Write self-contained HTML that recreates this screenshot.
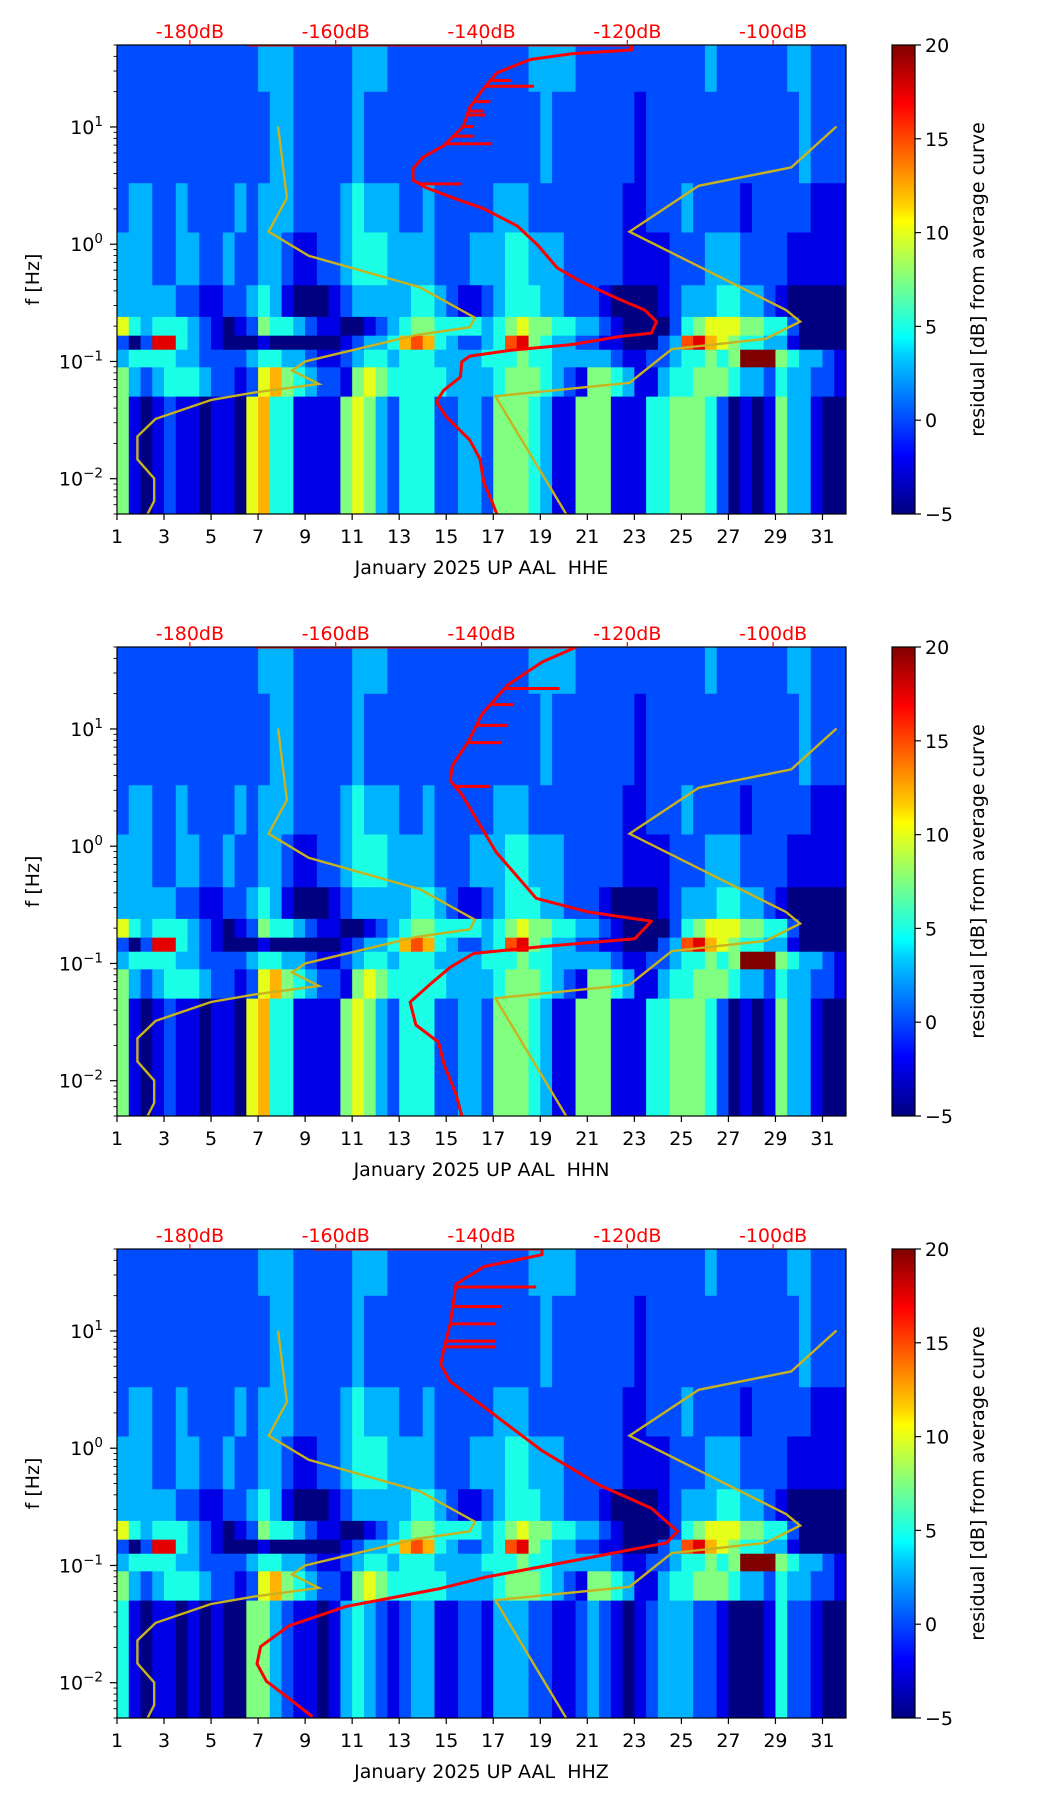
<!DOCTYPE html>
<html><head><meta charset="utf-8">
<style>
html,body{margin:0;padding:0;background:#fff;}
svg{display:block;font-family:"DejaVu Sans","Liberation Sans",sans-serif;}
</style></head>
<body>
<svg id="fig" width="1052" height="1806" viewBox="0 0 1052 1806" xmlns="http://www.w3.org/2000/svg">
<defs>
<linearGradient id="jetgrad" x1="0" y1="1" x2="0" y2="0">
<stop offset="0" stop-color="#000080"/><stop offset="0.11" stop-color="#0000f0"/>
<stop offset="0.125" stop-color="#0000ff"/><stop offset="0.34" stop-color="#00d0ff"/>
<stop offset="0.375" stop-color="#00ffff"/><stop offset="0.5" stop-color="#80ff80"/>
<stop offset="0.625" stop-color="#ffff00"/><stop offset="0.66" stop-color="#ffd000"/>
<stop offset="0.875" stop-color="#ff0000"/><stop offset="1" stop-color="#800000"/>
</linearGradient>
</defs>
</svg>
<script>
// ---- data ----
const dayTicks=[1,3,5,7,9,11,13,15,17,19,21,23,25,27,29,31];
const dbTicks=[-180,-160,-140,-120,-100];
const cbTicks=[-5,0,5,10,15,20];
const decadeTicks=[-2,-1,0,1];
const channels=["HHE","HHN","HHZ"];
// frequency band edges (log10 Hz), top to bottom
const bandEdges=[1.699,1.3,0.52,0.1,-0.35,-0.62,-0.78,-0.9,-1.05,-1.3,-2.301];
// residual codes per half-day (0..a => -5..20 dB)
const rowsCommon=[
"22 22 22 22 22 22 33 32 22 22 33 32 22 22 22 22 22 23 33 32 22 22 22 22 22 32 22 22 23 32 22",
"22 22 22 22 22 22 23 32 22 22 32 22 22 22 22 22 22 22 32 22 22 22 12 22 22 22 22 22 22 32 22",
"23 32 23 22 22 32 33 32 22 23 43 33 22 32 22 22 33 32 22 22 22 21 12 22 32 22 21 22 22 21 11",
"33 32 23 32 23 22 33 21 12 23 44 43 33 32 22 33 34 43 33 22 22 21 11 12 22 33 32 22 21 11 11",
"33 33 32 21 12 23 43 10 00 12 33 33 34 43 21 12 34 44 33 22 21 00 00 12 33 34 43 32 10 00 00",
"64 34 44 32 10 12 54 43 21 10 01 23 45 54 44 43 45 65 54 43 32 10 00 02 45 66 65 54 42 00 00",
"20 29 94 32 10 00 10 00 00 01 23 34 78 74 32 23 48 95 43 32 21 10 00 23 89 76 54 43 31 00 00",
"34 44 43 32 22 23 44 33 21 12 34 43 44 43 33 34 44 54 43 33 33 21 12 23 44 54 5a aa 54 33 21",
"53 23 44 43 22 12 67 54 32 21 56 54 44 44 33 33 45 55 43 21 55 43 11 34 45 55 43 32 43 32 21"
];
const lowRowHHE="51 01 21 10 11 06 74 41 11 15 65 32 44 42 23 32 55 54 31 15 55 11 14 45 55 42 01 01 53 31 00";
const lowRowHHN="51 01 21 10 11 06 74 41 11 15 65 32 44 42 23 32 55 54 31 15 55 11 14 45 55 42 01 01 53 31 00";
const lowRowHHZ="41 01 10 10 10 05 53 21 10 13 43 21 23 31 12 21 33 32 21 12 32 10 12 33 32 21 00 01 42 21 00";
// noise models [dB, log10 f]
const nlnmDb=[-167.9,-166.7,-169.2,-163.7,-148.5,-140.9,-141.6,-149,-164.2,-166,-162.3,-171.1,-177.1,-184.7,-187.2,-187.2,-184.9,-184.9,-185.8];
const nlnmLogF=[1.004,0.394,0.107,-0.099,-0.366,-0.627,-0.709,-0.774,-1.0,-1.077,-1.192,-1.264,-1.329,-1.49,-1.639,-1.835,-1.998,-2.19,-2.3];
const nhnmDb=[-91.3,-97.5,-110.2,-119.7,-98.2,-96.3,-101,-113.9,-119.7,-138.1,-128.4];
const nhnmLogF=[1.004,0.655,0.498,0.107,-0.562,-0.66,-0.807,-0.895,-1.182,-1.296,-2.3];
// average PSD curves per channel
const psdDbHHE=[-172,-119.4,-119.4,-127.7,-133.3,-137.9,-139.7,-141.6,-142.5,-145.2,-148,-149.4,-149.4,-147.6,-143.4,-139.7,-135.1,-132.3,-129.6,-125.9,-121.3,-117.6,-116,-116.7,-121.3,-127.7,-136,-141.6,-142.7,-142.9,-145.2,-146.2,-144.8,-141.6,-140.2,-139.7,-138.8,-137.9];
const psdLogFHHE=[1.699,1.699,1.657,1.624,1.575,1.461,1.33,1.167,1.004,0.84,0.743,0.645,0.547,0.482,0.384,0.303,0.156,-0.007,-0.203,-0.334,-0.464,-0.562,-0.66,-0.758,-0.79,-0.856,-0.905,-0.954,-1.003,-1.133,-1.247,-1.345,-1.475,-1.671,-1.834,-2.03,-2.16,-2.3];
const psdDbHHN=[-171,-127,-131.7,-136.4,-139.9,-141.9,-144,-144.3,-142.7,-138,-132.5,-125.4,-116.7,-119,-131.7,-141.1,-144.3,-147.1,-149.8,-149,-145.9,-145.1,-143.5,-142.7];
const psdLogFHHN=[1.699,1.699,1.57,1.375,1.129,0.883,0.687,0.559,0.441,-0.05,-0.444,-0.56,-0.64,-0.79,-0.856,-0.915,-1.033,-1.18,-1.33,-1.525,-1.672,-1.869,-2.114,-2.3];
const psdDbHHZ=[-163,-131.7,-131.7,-139.6,-143.5,-144.3,-145.1,-145.6,-144.3,-138,-131.7,-123.8,-116.7,-113.1,-114.6,-127,-139.6,-145.9,-158.5,-166.4,-170.3,-170.8,-169.5,-166.4,-163.2];
const psdLogFHHZ=[1.699,1.699,1.65,1.55,1.4,1.06,0.863,0.716,0.569,0.274,-0.021,-0.316,-0.512,-0.709,-0.807,-0.954,-1.102,-1.2,-1.348,-1.515,-1.692,-1.839,-1.987,-2.134,-2.29];
// spikes [log f] -> end dB
const spikeLogFHHE=[1.396,1.347,1.216,1.135,1.102,1.004,0.922,0.857,0.515];
const spikeDbHHE=[-136,-132.8,-138.8,-139.7,-139.5,-141.1,-141.1,-138.6,-142.7];
const spikeLogFHHN=[1.345,1.208,1.03,0.883,0.51];
const spikeDbHHN=[-129.3,-135.6,-136.4,-137.2,-138.8];
const spikeLogFHHZ=[1.375,1.208,1.06,0.913,0.864];
const spikeDbHHZ=[-132.5,-137.2,-138,-138,-138];

// ---- layout ----
const NS="http://www.w3.org/2000/svg";
const svg=document.getElementById('fig');
const AX_L=117, AX_W=729, AX_H=469, CB_L=892, CB_W=23;
const panelTops=[45,647,1249];
const LOGTOP=Math.log10(50), LOGBOT=Math.log10(0.005);
function xDay(d){return AX_L+(d-1)/31*AX_W;}
function xDb(db){return AX_L+(db+190)/100*AX_W;}
function yF(top,lf){return top+(LOGTOP-lf)/(LOGTOP-LOGBOT)*AX_H;}
function cl(v){return Math.max(0,Math.min(1,v));}
function jet(v){const t=(v+5)/25;return 'rgb('+Math.round(255*cl(1.5-Math.abs(4*t-3)))+','+Math.round(255*cl(1.5-Math.abs(4*t-2)))+','+Math.round(255*cl(1.5-Math.abs(4*t-1)))+')';}
function codeVal(c){return c==='a'?20:-5+2.5*parseInt(c,10);}
function mk(tag,attrs,parent){const e=document.createElementNS(NS,tag);for(const k in attrs)e.setAttribute(k,attrs[k]);(parent||svg).appendChild(e);return e;}
function txt(x,y,s,size,anchor,fill,parent){const t=mk('text',{x:x,y:y,'font-size':size,'text-anchor':anchor,fill:fill||'#000'},parent);t.textContent=s;return t;}
function pathD(dbs,lfs,top){return dbs.map((d,i)=>(i?'L':'M')+xDb(d).toFixed(1)+','+yF(top,lfs[i]).toFixed(1)).join(' ');}
function interpDb(dbs,lfs,lf){for(let i=1;i<lfs.length;i++){const a=lfs[i-1],b=lfs[i];if((lf<=a&&lf>=b)||(lf>=a&&lf<=b)){const f=(a===b)?0:(lf-a)/(b-a);return dbs[i-1]+f*(dbs[i]-dbs[i-1]);}}return dbs[dbs.length-1];}

const psdDb=[psdDbHHE,psdDbHHN,psdDbHHZ], psdLogF=[psdLogFHHE,psdLogFHHN,psdLogFHHZ];
const spikeLogF=[spikeLogFHHE,spikeLogFHHN,spikeLogFHHZ], spikeDb=[spikeDbHHE,spikeDbHHN,spikeDbHHZ];
const lowRows=[lowRowHHE,lowRowHHN,lowRowHHZ];

panelTops.forEach((top,p)=>{
  const g=mk('g',{});
  
  
  const cp=mk('clipPath',{id:'clip'+p},g);
  mk('rect',{x:AX_L,y:top,width:AX_W,height:AX_H},cp);
  const hm=mk('g',{'clip-path':'url(#clip'+p+')'},g);
  
  
  const rows=rowsCommon.concat([lowRows[p]]);
  rows.forEach((r,ri)=>{
    const codes=r.replace(/ /g,'');
    const y0=yF(top,bandEdges[ri]), y1=yF(top,bandEdges[ri+1]);
    for(let ci=0;ci<codes.length;ci++){
      const d0=1+ci/2;
      const c=mk('rect',{x:xDay(d0).toFixed(2),y:y0.toFixed(2),width:(xDay(d0+0.5)-xDay(d0)+0.6).toFixed(2),height:(y1-y0+0.6).toFixed(2),fill:jet(codeVal(codes[ci]))},hm);
      
      
    }
  });
  const lo=mk('path',{d:pathD(nlnmDb,nlnmLogF,top),fill:'none',stroke:'#c8b21e','stroke-width':2.4,'clip-path':'url(#clip'+p+')'},g);
  
  
  const hi=mk('path',{d:pathD(nhnmDb,nhnmLogF,top),fill:'none',stroke:'#c8b21e','stroke-width':2.4,'clip-path':'url(#clip'+p+')'},g);
  
  
  const rc=mk('path',{d:pathD(psdDb[p],psdLogF[p],top),fill:'none',stroke:'#ff0000','stroke-width':3,'stroke-linejoin':'round','clip-path':'url(#clip'+p+')'},g);
  
  
  spikeLogF[p].forEach((lf,i)=>{
    const d0=interpDb(psdDb[p].slice(2),psdLogF[p].slice(2),lf);
    const s=mk('line',{x1:xDb(d0),y1:yF(top,lf),x2:xDb(spikeDb[p][i]),y2:yF(top,lf),stroke:'#ff0000','stroke-width':3},g);
    
    
  });
  const fr=mk('rect',{x:AX_L,y:top,width:AX_W,height:AX_H,fill:'none',stroke:'#000','stroke-width':1.2},g);
  
  
  dayTicks.forEach(d=>{
    mk('line',{x1:xDay(d),y1:top+AX_H,x2:xDay(d),y2:top+AX_H+6,stroke:'#000','stroke-width':1.2},g);
    const t=txt(xDay(d),top+AX_H+29,String(d),19,'middle','#000',g);
    
    
  });
  const xl=txt(AX_L+AX_W/2,top+AX_H+60,'January 2025 UP AAL\u00a0 '+channels[p],19,'middle','#000',g);
  
  
  dbTicks.forEach(db=>{
    mk('line',{x1:xDb(db),y1:top,x2:xDb(db),y2:top-5,stroke:'#ff0000','stroke-width':1.2},g);
    const t=txt(xDb(db),top-7,db+'dB',19,'middle','#ff0000',g);
    
    
  });
  for(let e=-3;e<=1;e++){for(let m=1;m<=9;m++){
    const lf=e+Math.log10(m); if(lf<LOGBOT||lf>LOGTOP) continue;
    const y=yF(top,lf);
    mk('line',{x1:AX_L,y1:y,x2:AX_L-(m===1?7:3.5),y2:y,stroke:'#000','stroke-width':m===1?1.2:0.9},g);
  }}
  decadeTicks.forEach(e=>{
    const y=yF(top,e);
    const t=mk('text',{x:103,y:y+7,'font-size':19,'text-anchor':'end'},g);
    
    
    const a=mk('tspan',{},t);a.textContent='10';
    const b=mk('tspan',{dy:-8,'font-size':13.5},t);b.textContent=(e<0?'\u2212':'')+Math.abs(e);
  });
  const yl=txt(0,0,'f [Hz]',19,'middle','#000',g);
  yl.setAttribute('transform','translate(39,'+(top+AX_H/2)+') rotate(-90)');
  
  
  const cb=mk('rect',{x:CB_L,y:top,width:CB_W,height:AX_H,fill:'url(#jetgrad)',stroke:'#000','stroke-width':1.2},g);
  
  
  cbTicks.forEach(v=>{
    const y=top+AX_H-(v+5)/25*AX_H;
    mk('line',{x1:CB_L+CB_W,y1:y,x2:CB_L+CB_W+6,y2:y,stroke:'#000','stroke-width':1.2},g);
    const t=txt(CB_L+CB_W+10,y+7,(v<0?'\u2212':'')+Math.abs(v),19,'start','#000',g);
    
    
  });
  const cl2=txt(0,0,'residual [dB] from average curve',19,'middle','#000',g);
  cl2.setAttribute('transform','translate(984,'+(top+AX_H/2)+') rotate(-90)');
  
  
});
</script>
</body></html>
